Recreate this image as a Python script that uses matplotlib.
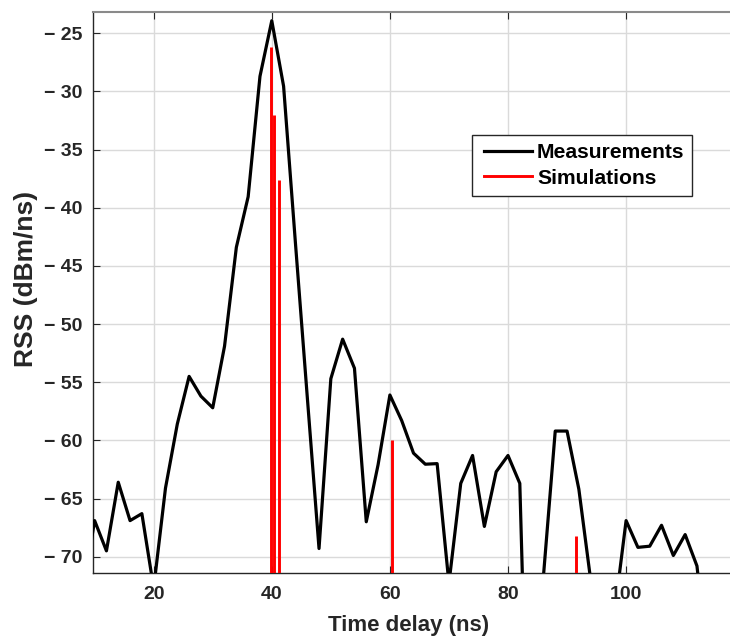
import matplotlib
matplotlib.use("Agg")
import matplotlib.pyplot as plt
from matplotlib.lines import Line2D
from matplotlib.legend_handler import HandlerLine2D
import numpy as np

plt.rcParams['font.family'] = ['Liberation Sans', 'DejaVu Sans']
plt.rcParams['font.weight'] = 'bold'

# Measurements (time delay in ns, RSS in dBm/ns)
meas_t = [8, 10, 12, 14, 16, 18, 20, 22, 24, 26, 28, 30, 32, 34, 36, 38, 40, 42, 44, 46,
          48, 50, 52, 54, 56, 58, 60, 62, 64, 66, 68, 70, 72, 74, 76, 78, 80, 82, 84, 86,
          88, 90, 92, 94, 96, 98, 100, 102, 104, 106, 108, 110, 112, 114]
meas_v = [-73.0, -66.9, -69.5, -63.6, -66.9, -66.3, -72.7, -64.1, -58.6, -54.5, -56.2, -57.2,
          -51.9, -43.4, -39.05, -28.7, -23.92, -29.55, -43.0, -56.2, -69.3, -54.7, -51.3,
          -53.8, -67.0, -62.1, -56.1, -58.3, -61.1, -62.05, -62.0, -72.3, -63.7, -61.3,
          -67.4, -62.7, -61.3, -63.7, -100.0, -71.7, -59.2, -59.2, -64.2, -72.0, -80.0,
          -75.0, -66.9, -69.2, -69.1, -67.3, -69.9, -68.1, -70.8, -80.0]

# Simulations (impulses)
sim_t = [39.95, 40.35, 41.2, 60.35, 91.45]
sim_v = [-26.15, -32.0, -37.6, -60.0, -68.2]

xticks = [20, 40, 60, 80, 100]
yticks = [-70, -65, -60, -55, -50, -45, -40, -35, -30, -25]
ytick_labels = ['\u2212 ' + str(abs(v)) for v in yticks]

W, H = 730, 638
fig = plt.figure(figsize=(W / 100, H / 100), dpi=100)
ax = fig.add_axes([92.5 / W, (H - 573.3) / H, 651.7 / W, 561.3 / H])

ax.plot(meas_t, meas_v, color='black', lw=2.3, zorder=3)
ax.vlines(sim_t, -90, sim_v, color='#ff0000', lw=2.1, zorder=4)

ax.set_xlim(9.64, 120)
ax.set_ylim(-71.43, -23.17)
ax.set_xticks(xticks)
ax.set_yticks(yticks)
ax.set_yticklabels(ytick_labels)
ax.grid(True, color='#dadada', lw=1.0)
ax.set_axisbelow(True)

ax.tick_params(direction='in', length=5, width=0.8, color='#262626',
               top=True, right=True, labelsize=14, labelcolor='#262626')
ax.tick_params(axis='y', pad=7)
ax.tick_params(axis='x', pad=9)
for lab in ax.get_xticklabels() + ax.get_yticklabels():
    lab.set_fontweight('bold')

for s in ['left', 'bottom']:
    ax.spines[s].set_color('#262626')
    ax.spines[s].set_linewidth(1.0)
ax.spines['top'].set_color('#8a8a8a')
ax.spines['top'].set_linewidth(1.5)
ax.spines['right'].set_visible(False)

ax.set_xlabel('Time delay (ns)', fontsize=16, fontweight='bold', color='#262626', va='center')
ax.xaxis.set_label_coords((409 - 92.5) / 651.7, (573.3 - 625) / 561.3)
ax.set_ylabel('RSS (dBm/ns)', fontsize=19, fontweight='bold', color='#262626', va='center')
ax.yaxis.set_label_coords((26 - 92.5) / 651.7, (573.3 - 278.5) / 561.3)

h_meas = Line2D([], [], color='black', lw=2.3)
h_sim = Line2D([], [], color='#ff0000', lw=2.1)
hm = {h_meas: HandlerLine2D(xpad=0.18), h_sim: HandlerLine2D(xpad=0.18)}
leg = ax.legend([h_meas, h_sim], ['Measurements', 'Simulations'], handler_map=hm,
                loc='upper left', bbox_to_anchor=(471.7 / W, (H - 135) / H),
                bbox_transform=fig.transFigure, borderaxespad=0,
                fancybox=False, edgecolor='#262626', framealpha=1,
                prop={'weight': 'bold', 'size': 15.2},
                handlelength=2.49, handletextpad=0.22, labelspacing=0.32, borderpad=0.38)
leg.get_frame().set_linewidth(1.0)

fig.savefig('out.png', dpi=100)
